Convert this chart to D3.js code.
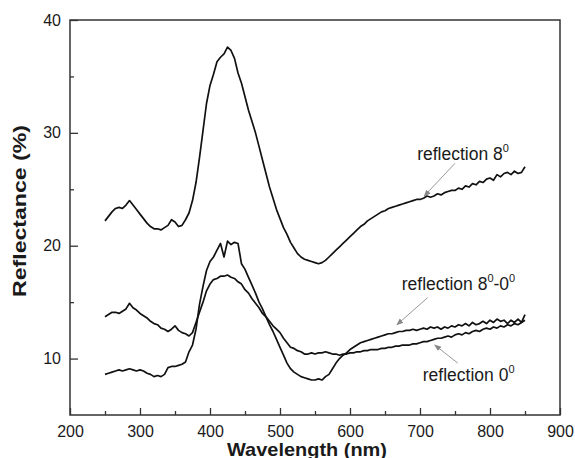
<!DOCTYPE html>
<html>
<head>
<meta charset="utf-8">
<script src="https://cdn.jsdelivr.net/npm/d3@7"></script>
<style>
  html, body { margin: 0; padding: 0; background: #fff; }
  svg { display: block; }
</style>
</head>
<body>
<svg id="chart" width="575" height="458"></svg>
<script>
// ---------------- data ----------------
const wavelength = d3.range(250, 851, 5);

const reflection8 = [
22.2,22.6,23.0,23.3,23.4,23.3,23.6,24.0,23.6,23.2,
22.8,22.4,22.0,21.7,21.5,21.5,21.4,21.6,21.8,22.3,
22.1,21.7,21.8,22.3,22.9,24.0,25.6,27.8,30.2,32.6,
34.2,35.2,36.3,36.7,37.0,37.6,37.3,36.6,35.3,34.4,
33.2,32.0,31.0,30.0,28.8,27.6,26.4,25.2,24.2,23.2,
22.4,21.6,21.0,20.3,19.8,19.3,19.0,18.8,18.7,18.6,
18.5,18.4,18.5,18.7,19.0,19.3,19.6,19.9,20.2,20.5,
20.8,21.1,21.4,21.7,21.9,22.2,22.4,22.6,22.8,23.0,
23.1,23.3,23.4,23.5,23.6,23.7,23.8,23.9,24.0,24.1,
24.1,24.2,24.4,24.3,24.4,24.6,24.5,24.7,24.8,24.9,
24.9,25.1,25.0,25.3,25.2,25.5,25.4,25.7,25.6,25.9,
26.0,25.8,26.3,26.1,26.4,26.5,26.3,26.6,26.4,26.5,
27.0];

const reflection0 = [
13.7,13.9,14.1,14.1,14.0,14.2,14.4,14.9,14.5,14.3,
14.0,13.8,13.6,13.3,13.1,13.0,12.7,12.6,12.4,12.6,
12.9,12.5,12.3,12.2,12.0,12.3,13.2,14.1,15.0,16.0,
16.6,17.0,17.1,17.3,17.3,17.4,17.2,17.1,16.8,16.6,
16.1,15.8,15.3,14.9,14.5,14.0,13.7,13.3,12.9,12.6,
12.3,11.8,11.4,11.0,10.9,10.7,10.6,10.4,10.4,10.5,
10.4,10.5,10.5,10.6,10.5,10.4,10.4,10.3,10.4,10.4,
10.5,10.5,10.6,10.6,10.7,10.7,10.8,10.8,10.8,10.9,
10.9,11.0,11.0,11.1,11.1,11.2,11.2,11.2,11.3,11.3,
11.4,11.5,11.5,11.6,11.7,11.8,11.8,11.9,12.0,11.9,
12.1,12.2,12.1,12.3,12.2,12.4,12.5,12.4,12.6,12.7,
12.6,12.8,12.7,12.9,12.8,13.0,12.9,13.1,13.0,13.2,
13.4];

const reflection8minus0 = [
8.6,8.7,8.8,8.9,9.0,8.9,9.0,9.1,9.0,8.9,
9.0,8.9,8.7,8.6,8.4,8.5,8.4,8.6,9.2,9.3,
9.3,9.4,9.5,9.7,10.6,11.2,12.6,14.8,16.4,17.8,
18.6,19.0,19.6,20.2,19.0,20.4,20.1,20.3,20.2,18.4,
17.9,17.2,16.5,15.8,15.0,14.4,13.7,13.0,12.4,11.7,
11.0,10.3,9.6,9.1,8.8,8.6,8.4,8.3,8.2,8.1,
8.1,8.2,8.1,8.4,8.6,9.1,9.6,10.0,10.3,10.5,
10.8,11.0,11.2,11.4,11.5,11.6,11.7,11.8,11.9,12.0,
12.1,12.2,12.2,12.3,12.4,12.4,12.5,12.5,12.6,12.5,
12.6,12.7,12.6,12.8,12.7,12.8,12.6,12.8,12.7,12.9,
12.8,13.0,12.9,13.1,12.9,13.2,13.0,13.1,13.3,13.1,
13.4,13.2,13.5,13.3,13.4,13.1,13.4,13.2,13.5,13.2,
13.9];

const xMajorTicks = [200, 300, 400, 500, 600, 700, 800, 900];
const xMinorTicks = [250, 350, 450, 550, 650, 750, 850];
const yMajorTicks = [10, 20, 30, 40];
const yMinorTicks = [15, 25, 35];

const xTitle = "Wavelength (nm)";
const yTitle = "Reflectance (%)";

// annotations: text pieces ([string, isSuperscript]); label start and arrow ends in data units
const annotations = [
  { parts: [["reflection 8", 0], ["0", 1]], textAt: [696, 27.6], from: [750, 27.3], to: [706, 24.4] },
  { parts: [["reflection 8", 0], ["0", 1], ["-0", 0], ["0", 1]], textAt: [674, 16.1], from: [711, 15.4], to: [667, 13.0] },
  { parts: [["reflection 0", 0], ["0", 1]], textAt: [704, 8.0], from: [754, 9.6], to: [721, 11.2] }
];

// ---------------- chart ----------------
const svg = d3.select("#chart");
const margin = { left: 70, top: 20, right: 15, bottom: 43 };
const W = 575, H = 458;
const x = d3.scaleLinear().domain([200, 900]).range([margin.left, W - margin.right]);
const y = d3.scaleLinear().domain([5, 40]).range([H - margin.bottom, margin.top]);

const ink = "#1a1a1a";
const font = "Liberation Sans, Arial, Helvetica, sans-serif";

// frame
svg.append("rect")
  .attr("x", x(200)).attr("y", y(40))
  .attr("width", x(900) - x(200)).attr("height", y(5) - y(40))
  .attr("fill", "none").attr("stroke", "#333").attr("stroke-width", 1.5);

function styleAxis(g) {
  g.select(".domain").remove();
  g.selectAll("line").attr("stroke", "#333").attr("stroke-width", 1.3);
  g.selectAll("text").attr("fill", ink).attr("font-family", font).attr("font-size", 16);
}

// x axis
svg.append("g").attr("transform", `translate(0,${y(5)})`)
  .call(d3.axisBottom(x).tickValues(xMajorTicks).tickSize(-7).tickPadding(11).tickFormat(d3.format("d")))
  .call(styleAxis);
svg.append("g").attr("transform", `translate(0,${y(5)})`)
  .call(d3.axisBottom(x).tickValues(xMinorTicks).tickSize(-4).tickFormat(""))
  .call(styleAxis);

// y axis
svg.append("g").attr("transform", `translate(${x(200)},0)`)
  .call(d3.axisLeft(y).tickValues(yMajorTicks).tickSize(-8).tickPadding(9).tickFormat(d3.format("d")))
  .call(styleAxis);
svg.append("g").attr("transform", `translate(${x(200)},0)`)
  .call(d3.axisLeft(y).tickValues(yMinorTicks).tickSize(-4).tickFormat(""))
  .call(styleAxis);

// titles
svg.append("text")
  .attr("x", 307).attr("y", 456)
  .attr("text-anchor", "middle")
  .attr("font-family", font).attr("font-weight", "bold").attr("font-size", 19)
  .attr("textLength", 160).attr("lengthAdjust", "spacingAndGlyphs")
  .attr("fill", ink)
  .text(xTitle);

svg.append("text")
  .attr("transform", `translate(26,211) rotate(-90)`)
  .attr("text-anchor", "middle")
  .attr("font-family", font).attr("font-weight", "bold").attr("font-size", 18)
  .attr("textLength", 172).attr("lengthAdjust", "spacingAndGlyphs")
  .attr("fill", ink)
  .text(yTitle);

// curves
const line = d3.line().x(d => x(d[0])).y(d => y(d[1]));
[reflection8, reflection0, reflection8minus0].forEach(series => {
  svg.append("path")
    .datum(wavelength.map((w, i) => [w, series[i]]))
    .attr("d", line)
    .attr("fill", "none")
    .attr("stroke", "#111")
    .attr("stroke-width", 1.7)
    .attr("stroke-linejoin", "round");
});

// arrow marker
svg.append("defs").append("marker")
  .attr("id", "arrow").attr("viewBox", "0 0 10 10")
  .attr("refX", 9).attr("refY", 5)
  .attr("markerWidth", 7).attr("markerHeight", 7)
  .attr("orient", "auto")
  .append("path").attr("d", "M0,1 L10,5 L0,9 Z").attr("fill", "#888");

annotations.forEach(a => {
  svg.append("line")
    .attr("x1", x(a.from[0])).attr("y1", y(a.from[1]))
    .attr("x2", x(a.to[0])).attr("y2", y(a.to[1]))
    .attr("stroke", "#999").attr("stroke-width", 1)
    .attr("marker-end", "url(#arrow)");
  const t = svg.append("text")
    .attr("x", x(a.textAt[0])).attr("y", y(a.textAt[1]))
    .attr("font-family", font).attr("font-size", 17.5).attr("fill", ink);
  let raised = false;
  a.parts.forEach(([str, sup]) => {
    const ts = t.append("tspan").text(str);
    if (sup && !raised) { ts.attr("dy", -8).attr("font-size", 11); raised = true; }
    else if (sup && raised) { ts.attr("font-size", 11); }
    else if (!sup && raised) { ts.attr("dy", 8); raised = false; }
  });
});
</script>
</body>
</html>
